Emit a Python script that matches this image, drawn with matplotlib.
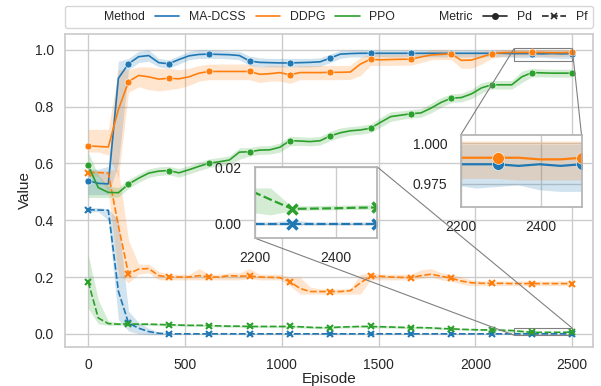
import numpy as np
import matplotlib
matplotlib.use("Agg")
import matplotlib.pyplot as plt
import seaborn as sns
from matplotlib.lines import Line2D
from mpl_toolkits.axes_grid1.inset_locator import mark_inset

sns.set_theme(style="whitegrid")
plt.rcParams['font.family'] = ['Liberation Sans', 'DejaVu Sans']

# episode grid (markers every 4th point)
episodes = np.linspace(0, 2500, 49)

methods = ["MA-DCSS", "DDPG", "PPO"]
colors = ["#1f77b4", "#ff7f0e", "#2ca02c"]

# ---- Pd ----
madcss_pd = [0.540, 0.530, 0.528, 0.900, 0.951, 0.976, 0.980, 0.955, 0.951, 0.966,
             0.979, 0.984, 0.985, 0.984, 0.983, 0.980, 0.961, 0.956, 0.955, 0.954,
             0.954, 0.955, 0.956, 0.958, 0.971, 0.985, 0.987, 0.988, 0.988, 0.988,
             0.988, 0.988, 0.988, 0.988, 0.988, 0.988, 0.988, 0.988, 0.988, 0.988,
             0.988, 0.988, 0.987, 0.987, 0.987, 0.986, 0.987, 0.986, 0.987]
madcss_pd_lo = [0.49, 0.49, 0.49, 0.60, 0.93, 0.955, 0.96, 0.94, 0.935, 0.95,
                0.965, 0.97, 0.97, 0.97, 0.968, 0.965, 0.945, 0.94, 0.94, 0.94,
                0.94, 0.94, 0.94, 0.942, 0.955, 0.97, 0.975, 0.975, 0.976, 0.976,
                0.975, 0.975, 0.976, 0.976, 0.975, 0.975, 0.975, 0.975, 0.975, 0.975,
                0.975, 0.975, 0.974, 0.972, 0.973, 0.974, 0.971, 0.970, 0.970]
madcss_pd_hi = [0.58, 0.58, 0.59, 0.96, 0.97, 0.995, 1.0, 0.97, 0.965, 0.98,
                0.995, 1.0, 1.0, 0.998, 0.996, 0.995, 0.978, 0.972, 0.97, 0.97,
                0.97, 0.97, 0.97, 0.972, 0.985, 0.998, 0.999, 0.999, 0.999, 0.999,
                0.999, 0.999, 0.999, 0.999, 0.999, 0.999, 0.999, 0.999, 0.999, 0.999,
                0.999, 0.999, 0.999, 0.999, 0.999, 0.999, 0.999, 0.999, 0.999]

ddpg_pd = [0.662, 0.660, 0.658, 0.790, 0.888, 0.910, 0.905, 0.897, 0.900, 0.898,
           0.905, 0.918, 0.924, 0.924, 0.924, 0.924, 0.924, 0.914, 0.916, 0.920,
           0.912, 0.920, 0.920, 0.920, 0.921, 0.921, 0.922, 0.950, 0.967, 0.965,
           0.966, 0.967, 0.967, 0.975, 0.982, 0.984, 0.986, 0.963, 0.964, 0.975,
           0.986, 0.990, 0.991, 0.991, 0.991, 0.991, 0.990, 0.990, 0.991]
ddpg_pd_lo = [0.64, 0.64, 0.63, 0.55, 0.85, 0.87, 0.86, 0.855, 0.86, 0.865,
              0.875, 0.89, 0.895, 0.895, 0.895, 0.895, 0.895, 0.885, 0.89, 0.89,
              0.882, 0.895, 0.895, 0.895, 0.895, 0.895, 0.896, 0.91, 0.945, 0.945,
              0.945, 0.946, 0.946, 0.955, 0.965, 0.966, 0.966, 0.935, 0.935, 0.95,
              0.97, 0.977, 0.978, 0.978, 0.978, 0.977, 0.977, 0.977, 0.977]
ddpg_pd_hi = [0.72, 0.72, 0.72, 0.93, 0.93, 0.94, 0.94, 0.935, 0.935, 0.93,
              0.935, 0.945, 0.95, 0.95, 0.95, 0.95, 0.95, 0.94, 0.945, 0.945,
              0.94, 0.945, 0.945, 0.945, 0.945, 0.945, 0.946, 0.975, 0.985, 0.985,
              0.985, 0.985, 0.985, 0.99, 1.0, 1.0, 1.0, 0.99, 0.99, 0.995,
              1.0, 1.001, 1.001, 1.001, 1.001, 1.001, 1.001, 1.001, 1.001]

ppo_pd = [0.593, 0.515, 0.498, 0.497, 0.527, 0.548, 0.566, 0.573, 0.575, 0.567,
          0.578, 0.590, 0.601, 0.606, 0.612, 0.640, 0.641, 0.647, 0.648, 0.657,
          0.680, 0.679, 0.677, 0.680, 0.697, 0.708, 0.715, 0.718, 0.724, 0.745,
          0.765, 0.770, 0.775, 0.778, 0.795, 0.815, 0.830, 0.832, 0.845, 0.866,
          0.877, 0.877, 0.877, 0.905, 0.920, 0.919, 0.918, 0.918, 0.918]
ppo_pd_lo = [0.48, 0.48, 0.48, 0.482, 0.512, 0.533, 0.551, 0.558, 0.56, 0.552,
             0.563, 0.575, 0.586, 0.591, 0.597, 0.615, 0.626, 0.632, 0.633, 0.64,
             0.662, 0.664, 0.662, 0.665, 0.68, 0.692, 0.7, 0.703, 0.709, 0.728,
             0.748, 0.755, 0.76, 0.763, 0.778, 0.798, 0.815, 0.817, 0.828, 0.848,
             0.862, 0.862, 0.862, 0.885, 0.905, 0.905, 0.904, 0.904, 0.904]
ppo_pd_hi = [0.64, 0.56, 0.52, 0.515, 0.543, 0.563, 0.581, 0.588, 0.59, 0.582,
             0.593, 0.605, 0.616, 0.621, 0.627, 0.655, 0.656, 0.662, 0.663, 0.672,
             0.696, 0.694, 0.692, 0.695, 0.713, 0.725, 0.73, 0.733, 0.739, 0.762,
             0.782, 0.785, 0.79, 0.793, 0.812, 0.832, 0.845, 0.847, 0.862, 0.884,
             0.892, 0.892, 0.892, 0.925, 0.935, 0.933, 0.932, 0.932, 0.932]

# ---- Pf ----
madcss_pf = [0.437, 0.436, 0.435, 0.150, 0.038, 0.020, 0.008, 0.002, 0.000, 0.000,
             0.000, 0.000, 0.000, 0.000, 0.000, 0.000, 0.000, 0.000, 0.000, 0.000,
             0.000, 0.000, 0.000, 0.000, 0.000, 0.000, 0.000, 0.000, 0.000, 0.000,
             0.000, 0.000, 0.000, 0.000, 0.000, 0.000, 0.000, 0.000, 0.000, 0.000,
             0.000, 0.000, 0.000, 0.000, 0.000, 0.000, 0.000, 0.000, 0.000]
madcss_pf_lo = [0.43, 0.43, 0.40, 0.05, 0.01, 0.0, -0.003, -0.003, -0.002, -0.001,
                -0.001, -0.001, -0.001, -0.001, -0.001, -0.001, -0.001, -0.001, -0.001, -0.001,
                -0.001, -0.001, -0.001, -0.001, -0.001, -0.001, -0.001, -0.001, -0.001, -0.001,
                -0.001, -0.001, -0.001, -0.001, -0.001, -0.001, -0.001, -0.001, -0.001, -0.001,
                -0.001, -0.001, -0.0005, -0.0005, -0.0005, -0.0005, -0.0005, -0.0005, -0.0005]
madcss_pf_hi = [0.445, 0.445, 0.44, 0.40, 0.08, 0.04, 0.02, 0.006, 0.002, 0.001,
                0.001, 0.001, 0.001, 0.001, 0.001, 0.001, 0.001, 0.001, 0.001, 0.001,
                0.001, 0.001, 0.001, 0.001, 0.006, 0.003, 0.001, 0.001, 0.001, 0.001,
                0.001, 0.001, 0.001, 0.001, 0.001, 0.001, 0.001, 0.001, 0.001, 0.001,
                0.001, 0.001, 0.0005, 0.0005, 0.0012, 0.0005, 0.0005, 0.0005, 0.0005]

ddpg_pf = [0.568, 0.568, 0.566, 0.380, 0.211, 0.228, 0.230, 0.205, 0.200, 0.200,
           0.200, 0.205, 0.200, 0.200, 0.205, 0.203, 0.204, 0.200, 0.199, 0.198,
           0.184, 0.160, 0.149, 0.149, 0.149, 0.149, 0.152, 0.180, 0.202, 0.203,
           0.200, 0.199, 0.198, 0.205, 0.210, 0.203, 0.196, 0.186, 0.180, 0.178,
           0.178, 0.178, 0.177, 0.177, 0.177, 0.177, 0.177, 0.177, 0.177]
ddpg_pf_lo = [0.555, 0.555, 0.50, 0.21, 0.18, 0.21, 0.215, 0.19, 0.19, 0.19,
              0.19, 0.19, 0.19, 0.19, 0.19, 0.19, 0.195, 0.19, 0.19, 0.19,
              0.17, 0.14, 0.14, 0.14, 0.14, 0.14, 0.14, 0.14, 0.19, 0.19,
              0.19, 0.19, 0.19, 0.195, 0.2, 0.19, 0.185, 0.175, 0.17, 0.17,
              0.17, 0.17, 0.17, 0.17, 0.17, 0.17, 0.17, 0.17, 0.17]
ddpg_pf_hi = [0.575, 0.575, 0.575, 0.58, 0.33, 0.245, 0.245, 0.22, 0.21, 0.21,
              0.21, 0.23, 0.21, 0.21, 0.215, 0.215, 0.23, 0.21, 0.21, 0.21,
              0.2, 0.2, 0.165, 0.158, 0.158, 0.158, 0.16, 0.21, 0.215, 0.21,
              0.21, 0.21, 0.21, 0.225, 0.23, 0.215, 0.21, 0.2, 0.19, 0.186,
              0.186, 0.186, 0.186, 0.186, 0.186, 0.186, 0.186, 0.186, 0.186]

ppo_pf = [0.184, 0.056, 0.036, 0.034, 0.035, 0.034, 0.034, 0.033, 0.032, 0.031,
          0.030, 0.030, 0.029, 0.028, 0.027, 0.027, 0.026, 0.026, 0.026, 0.026,
          0.026, 0.025, 0.023, 0.022, 0.022, 0.024, 0.025, 0.026, 0.026, 0.025,
          0.024, 0.023, 0.022, 0.022, 0.021, 0.019, 0.0176, 0.016, 0.015, 0.014,
          0.014, 0.013, 0.0118, 0.0085, 0.0053, 0.0054, 0.0055, 0.0057, 0.0058]
ppo_pf_lo = [0.09, 0.035, 0.03, 0.03, 0.031, 0.03, 0.03, 0.029, 0.028, 0.027,
             0.026, 0.026, 0.025, 0.024, 0.023, 0.023, 0.022, 0.022, 0.022, 0.022,
             0.022, 0.021, 0.019, 0.018, 0.018, 0.02, 0.021, 0.022, 0.022, 0.021,
             0.02, 0.019, 0.018, 0.018, 0.017, 0.015, 0.014, 0.013, 0.012, 0.011,
             0.011, 0.01, 0.004, 0.003, 0.0045, 0.0047, 0.0048, 0.0049, 0.005]
ppo_pf_hi = [0.28, 0.12, 0.045, 0.04, 0.039, 0.038, 0.038, 0.037, 0.036, 0.035,
             0.034, 0.034, 0.033, 0.032, 0.031, 0.031, 0.03, 0.03, 0.03, 0.03,
             0.03, 0.029, 0.027, 0.026, 0.026, 0.028, 0.029, 0.03, 0.03, 0.029,
             0.028, 0.027, 0.026, 0.026, 0.025, 0.023, 0.021, 0.019, 0.018, 0.017,
             0.017, 0.016, 0.0125, 0.0125, 0.006, 0.0063, 0.0064, 0.0065, 0.0066]

series = [
    (madcss_pd, madcss_pd_lo, madcss_pd_hi, madcss_pf, madcss_pf_lo, madcss_pf_hi),
    (ddpg_pd, ddpg_pd_lo, ddpg_pd_hi, ddpg_pf, ddpg_pf_lo, ddpg_pf_hi),
    (ppo_pd, ppo_pd_lo, ppo_pd_hi, ppo_pf, ppo_pf_lo, ppo_pf_hi),
]


def draw(ax, lw, ms, mew_x):
    for (pd_m, pd_lo, pd_hi, pf_m, pf_lo, pf_hi), c in zip(series, colors):
        ax.fill_between(episodes, pd_lo, pd_hi, color=c, alpha=0.2, lw=0)
        ax.plot(episodes, pd_m, color=c, lw=lw, marker='o', ms=ms,
                markevery=4, mec='white', mew=0.4)
        ax.fill_between(episodes, pf_lo, pf_hi, color=c, alpha=0.2, lw=0)
        ax.plot(episodes, pf_m, color=c, lw=lw, ls='--', dashes=(4, 1.5),
                marker='x', ms=ms * 0.9, markevery=4, mew=mew_x)


fig = plt.figure(figsize=(6.01, 3.86), dpi=100)
ax = fig.add_axes([0.108, 0.102, 0.878, 0.810])
draw(ax, 1.2, 5, 1.5)
ax.set_xlim(-120, 2605)
ax.set_ylim(-0.045, 1.056)
ax.set_xticks([0, 500, 1000, 1500, 2000, 2500])
ax.set_yticks([0.0, 0.2, 0.4, 0.6, 0.8, 1.0])
ax.tick_params(labelsize=10, colors='.15', pad=2)
ax.set_xlabel("Episode", fontsize=11, color='.15', labelpad=0)
ax.set_ylabel("Value", fontsize=11, color='.15', labelpad=2)

# inset: Pd
axins1 = ax.inset_axes([0.750, 0.448, 0.229, 0.229])
draw(axins1, 1.6, 8.5, 2.5)
axins1.set_xlim(2200, 2500)
axins1.set_ylim(0.961, 1.005)
axins1.set_xticks([2200, 2400])
axins1.set_yticks([0.975, 1.000])
axins1.set_yticklabels(["0.975", "1.000"])
axins1.tick_params(labelsize=10, colors='.15')
mark_inset(ax, axins1, loc1=2, loc2=1, fc="none", ec="0.5", lw=0.8)

# inset: Pf
axins2 = ax.inset_axes([0.360, 0.347, 0.231, 0.229])
draw(axins2, 1.6, 8.5, 2.5)
axins2.set_xlim(2200, 2500)
axins2.set_ylim(-0.005, 0.0202)
axins2.set_xticks([2200, 2400])
axins2.set_yticks([0.00, 0.02])
axins2.set_yticklabels(["0.00", "0.02"])
axins2.tick_params(labelsize=10, colors='.15')
mark_inset(ax, axins2, loc1=1, loc2=3, fc="none", ec="0.5", lw=0.8)

for a in (axins1, axins2):
    for s in a.spines.values():
        s.set_edgecolor('.7')

# legend
blank = Line2D([], [], color='none')
handles = [blank]
labels = ["Method"]
for m, c in zip(methods, colors):
    handles.append(Line2D([], [], color=c, lw=1.2))
    labels.append(m)
handles += [blank,
            Line2D([], [], color='.15', lw=1.2, marker='o', ms=4),
            Line2D([], [], color='.15', lw=1.2, ls='--', dashes=(4, 1.5), marker='x', ms=4, mew=1.2)]
labels += ["Metric", "Pd", "Pf"]
ax.legend(handles, labels, loc='lower left', bbox_to_anchor=(0, 1.02, 1, 0.1),
          mode='expand', ncol=7, borderaxespad=0, fontsize=8.8, frameon=True,
          edgecolor='.8', handlelength=2.0)

fig.savefig("out.png", dpi=100)
